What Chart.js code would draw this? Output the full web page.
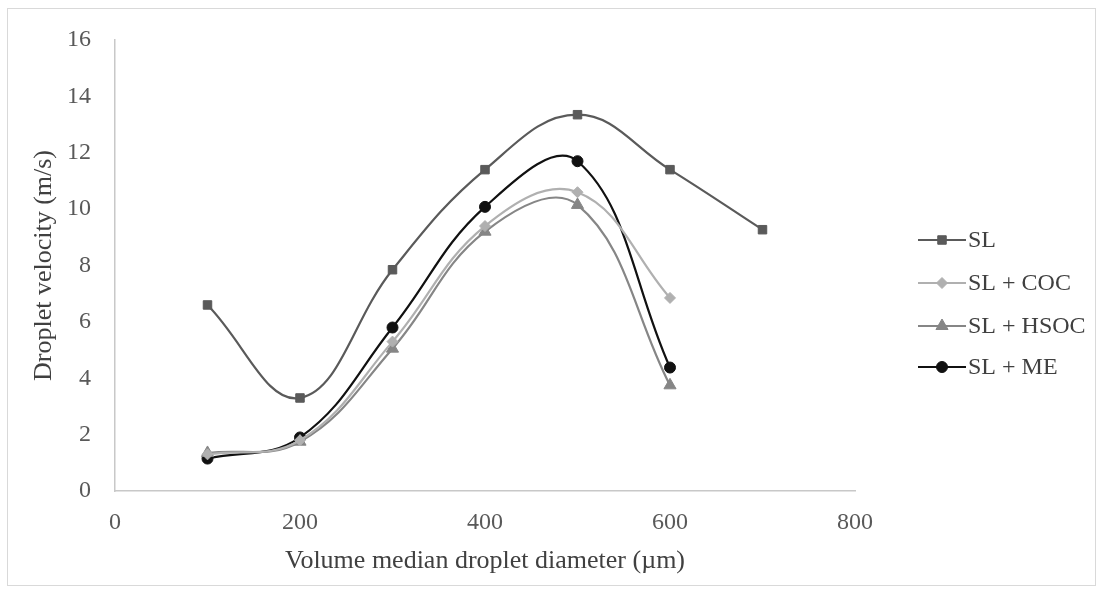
<!DOCTYPE html>
<html>
<head>
<meta charset="utf-8">
<script src="https://cdn.jsdelivr.net/npm/chart.js@4.4.1/dist/chart.umd.min.js"></script>
<style>
  html, body { margin: 0; padding: 0; background: #ffffff; }
  #frame { position: absolute; left: 7px; top: 8px; width: 1089px; height: 578px; border: 1px solid #d9d9d9; box-sizing: border-box; }
  #wrap { position: absolute; left: 0; top: 0; width: 1103px; height: 594px; }
</style>
</head>
<body>
<div id="frame"></div>
<div id="wrap"><canvas id="c" width="1103" height="594"></canvas></div>
<script>
const diameters = [100, 200, 300, 400, 500, 600, 700];
const slValues   = [6.6, 3.3, 7.85, 11.4, 13.35, 11.4, 9.27];
const cocValues  = [1.3, 1.8, 5.3, 9.4, 10.6, 6.85];
const hsocValues = [1.35, 1.75, 5.05, 9.2, 10.15, 3.75];
const meValues   = [1.15, 1.9, 5.8, 10.08, 11.7, 4.38];
const seriesNames = ['SL', 'SL + COC', 'SL + HSOC', 'SL + ME'];
const xTickLabels = [0, 200, 400, 600, 800];
const yTickLabels = [0, 2, 4, 6, 8, 10, 12, 14, 16];

const toPoints = vals => vals.map((v, i) => ({ x: diameters[i], y: v }));
const FONT = '"Liberation Serif", "Times New Roman", serif';

const styles = [
  { color: '#5a5a5a', point: 'rect', radius: 6 },
  { color: '#b0b0b0', point: 'rectRot', radius: 5.5 },
  { color: '#868686', point: 'triangle', radius: 7 },
  { color: '#111111', point: 'circle', radius: 5.5 }
];
const allValues = [slValues, cocValues, hsocValues, meValues];

const datasets = allValues.map((vals, i) => ({
  label: seriesNames[i],
  data: toPoints(vals),
  borderColor: styles[i].color,
  backgroundColor: styles[i].color,
  pointBackgroundColor: styles[i].color,
  pointBorderColor: styles[i].color,
  pointStyle: styles[i].point,
  pointRadius: styles[i].radius,
  pointBorderWidth: 1,
  borderWidth: 2.2,
  tension: 0.4,
  fill: false
}));

const legendPlugin = {
  id: 'customLegend',
  afterDraw(chart) {
    const ctx = chart.ctx;
    const x0 = 918, lineW = 48, ys = [240, 283, 326, 367];
    ctx.save();
    chart.data.datasets.forEach((ds, i) => {
      const y = ys[i];
      ctx.strokeStyle = ds.borderColor;
      ctx.lineWidth = 2.2;
      ctx.beginPath();
      ctx.moveTo(x0, y);
      ctx.lineTo(x0 + lineW, y);
      ctx.stroke();
      ctx.fillStyle = ds.borderColor;
      ctx.strokeStyle = ds.borderColor;
      ctx.lineWidth = 1;
      Chart.helpers.drawPoint(ctx, {
        pointStyle: ds.pointStyle, radius: ds.pointRadius, borderWidth: 1, rotation: 0
      }, x0 + lineW / 2, y);
      ctx.fillStyle = '#404040';
      ctx.font = '24px ' + FONT;
      ctx.textBaseline = 'middle';
      ctx.textAlign = 'left';
      ctx.fillText(ds.label, x0 + lineW + 2, y + 1);
    });
    ctx.restore();
  }
};

new Chart(document.getElementById('c'), {
  type: 'line',
  data: { datasets },
  plugins: [legendPlugin],
  options: {
    responsive: false,
    animation: false,
    layout: { padding: { left: 29, top: 40, right: 248, bottom: 17 } },
    plugins: {
      legend: { display: false },
      tooltip: { enabled: false }
    },
    scales: {
      x: {
        type: 'linear',
        min: xTickLabels[0],
        max: xTickLabels[xTickLabels.length - 1],
        afterBuildTicks(scale) { scale.ticks = xTickLabels.map(v => ({ value: v })); },
        afterFit(scale) { scale.height = 86; },
        grid: { display: false, drawTicks: false },
        border: { display: true, color: '#c8c8c8', width: 1.5 },
        ticks: { color: '#595959', font: { family: FONT, size: 24 }, padding: 17, maxRotation: 0 },
        title: {
          display: true,
          text: 'Volume median droplet diameter (µm)',
          color: '#404040',
          font: { family: FONT, size: 26 },
          padding: { top: 0, bottom: 0 }
        }
      },
      y: {
        type: 'linear',
        min: yTickLabels[0],
        max: yTickLabels[yTickLabels.length - 1],
        afterBuildTicks(scale) { scale.ticks = yTickLabels.map(v => ({ value: v })); },
        afterFit(scale) { scale.width = 86; },
        grid: { display: false, drawTicks: false },
        border: { display: true, color: '#c8c8c8', width: 1.5 },
        ticks: { color: '#595959', font: { family: FONT, size: 24 }, padding: 24 },
        title: {
          display: true,
          text: 'Droplet velocity (m/s)',
          color: '#404040',
          font: { family: FONT, size: 26 },
          padding: { top: 0, bottom: 0 }
        }
      }
    }
  }
});
</script>
</body>
</html>
